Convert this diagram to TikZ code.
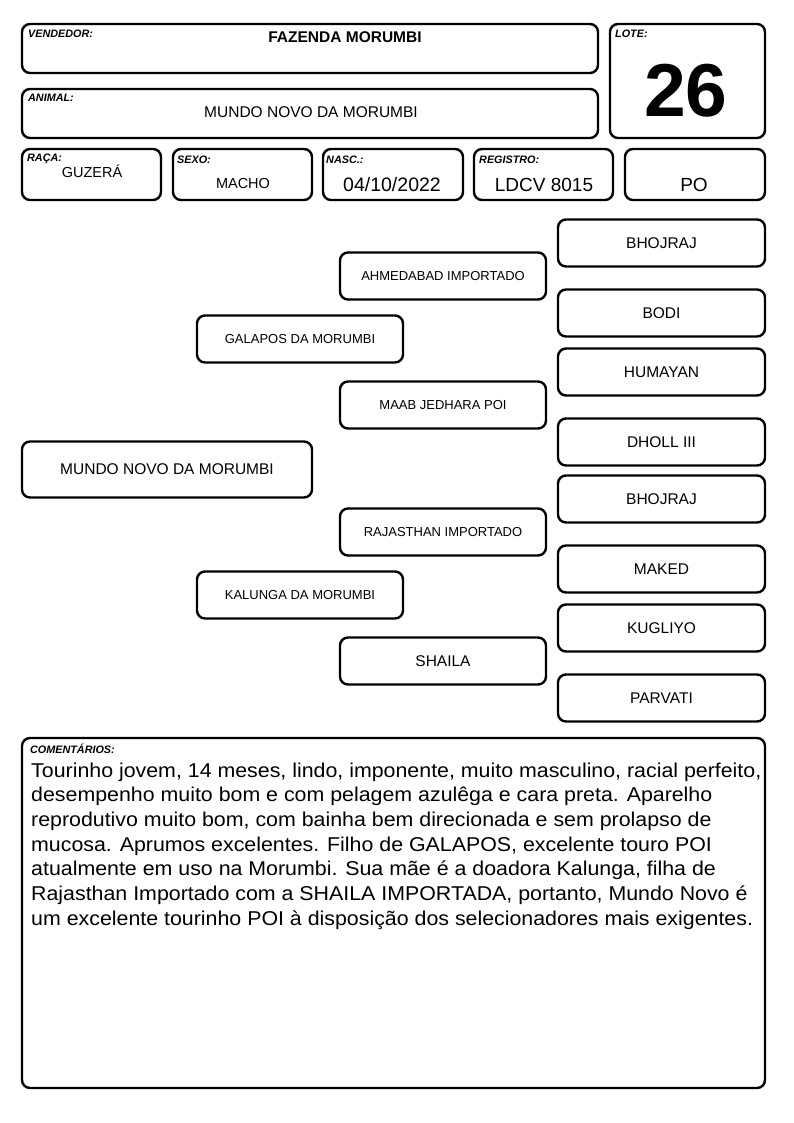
\documentclass[tikz,border=0pt]{standalone}
\usepackage{fontspec}
\setmainfont{Liberation Sans}
\newfontfamily\comfont{Liberation Sans}[FakeStretch=1.068]
\newcommand{\fs}[1]{\fontsize{#1}{#1}\selectfont}
\tikzset{
  box/.style={draw, line width=2.4pt, rounded corners=8pt, inner sep=0pt},
  hdr/.style={box, minimum width=139pt, minimum height=51pt},
  sire/.style={box, minimum width=207pt, minimum height=47pt, font=\fs{15.5}},
  mid/.style={box, minimum width=206pt, minimum height=47pt, font=\fs{13}},
  lbl/.style={anchor=base west, inner sep=0pt, font=\fs{10.8}\bfseries\itshape},
  val/.style={anchor=base, inner sep=0pt},
}
\begin{document}
\begin{tikzpicture}[x=1pt,y=-1pt]
\useasboundingbox (0,0) rectangle (794,1123);
% header
\node[box, minimum width=576pt, minimum height=49pt] (vend) at (310,48.5) {};
\node[box, minimum width=155pt, minimum height=114pt] (lote) at (687.5,81) {};
\node[box, minimum width=576pt, minimum height=49pt] (anim) at (310,113.5) {};
\node[hdr] (raca) at (91.5,174.5) {};
\node[hdr] (sexo) at (242.5,174.5) {};
\node[hdr, minimum width=140pt] (nasc) at (393,174.5) {};
\node[hdr] (reg) at (543.5,174.5) {};
\node[hdr, minimum width=140pt] (po) at (695,174.5) {};
\node[lbl] (lvend) at (28,38) {VENDEDOR:};
\node[lbl] (llote) at (615,38) {LOTE:};
\node[lbl] (lanim) at (28,102) {ANIMAL:};
\node[lbl] (lraca) at (27,162) {RAÇA:};
\node[lbl] (lsexo) at (177,164) {SEXO:};
\node[lbl] (lnasc) at (326,164) {NASC.:};
\node[lbl] (lreg) at (479,164) {REGISTRO:};
\node[val, font=\fs{15.5}\bfseries] (vvend) at (345,43) {FAZENDA MORUMBI};
\node[val, font=\fs{75}\bfseries] (vlote) at (686,117) {26};
\node[val, font=\fs{15.5}] (vanim) at (311,118) {MUNDO NOVO DA MORUMBI};
\node[val, font=\fs{14.5}] (vraca) at (92,178) {GUZERÁ};
\node[val, font=\fs{14.5}] (vsexo) at (243,189) {MACHO};
\node[val, font=\fs{19.5}] (vnasc) at (392,192) {04/10/2022};
\node[val, font=\fs{19}] (vreg) at (544,192) {LDCV 8015};
\node[val, font=\fs{19}] (vpo) at (694,192) {PO};
% pedigree
\node[sire] (s1) at (661.5,243) {BHOJRAJ};
\node[sire] (s2) at (661.5,313) {BODI};
\node[sire] (s3) at (661.5,372) {HUMAYAN};
\node[sire] (s4) at (661.5,442) {DHOLL III};
\node[sire] (s5) at (661.5,499) {BHOJRAJ};
\node[sire] (s6) at (661.5,569) {MAKED};
\node[sire] (s7) at (661.5,628) {KUGLIYO};
\node[sire] (s8) at (661.5,698) {PARVATI};
\node[mid] (m1) at (443,276) {AHMEDABAD IMPORTADO};
\node[mid] (m2) at (443,405) {MAAB JEDHARA POI};
\node[mid] (m3) at (443,532) {RAJASTHAN IMPORTADO};
\node[mid, font=\fs{15.5}] (m4) at (443,661) {SHAILA};
\node[mid] (p1) at (300,339) {GALAPOS DA MORUMBI};
\node[mid] (p2) at (300,595) {KALUNGA DA MORUMBI};
\node[box, minimum width=290pt, minimum height=56pt, font=\fs{15.5}] (main) at (167,469.5) {MUNDO NOVO DA MORUMBI};
% comments
\node[box, minimum width=743pt, minimum height=350pt] (com) at (393.5,913) {};
\node[lbl] (lcom) at (30,753) {COMENTÁRIOS:};
\begin{scope}[every node/.style={anchor=base west, inner sep=0pt, font=\comfont\fs{20}}]
\node (c1) at (31,777) {Tourinho jovem, 14 meses, lindo, imponente, muito masculino, racial perfeito,};
\node (c2) at (31,801.7) {desempenho muito bom e com pelagem azulêga e cara preta. Aparelho};
\node (c3) at (31,826.3) {reprodutivo muito bom, com bainha bem direcionada e sem prolapso de};
\node (c4) at (31,851) {mucosa. Aprumos excelentes. Filho de GALAPOS, excelente touro POI};
\node (c5) at (31,875.7) {atualmente em uso na Morumbi. Sua mãe é a doadora Kalunga, filha de};
\node (c6) at (31,900.3) {Rajasthan Importado com a SHAILA IMPORTADA, portanto, Mundo Novo é};
\node (c7) at (31,925) {um excelente tourinho POI à disposição dos selecionadores mais exigentes.};
\end{scope}
\end{tikzpicture}
\end{document}
